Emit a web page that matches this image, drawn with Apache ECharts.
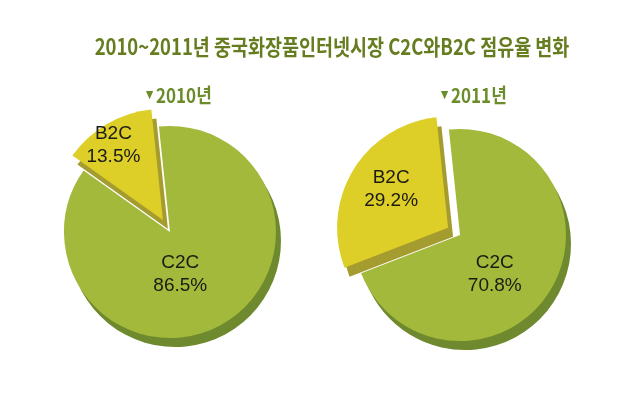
<!DOCTYPE html>
<html>
<head>
<meta charset="utf-8">
<script src="https://cdn.jsdelivr.net/npm/echarts@6/dist/echarts.min.js"></script>
<style>
html,body{margin:0;padding:0;background:#fff;}
#c{width:640px;height:394px;}
</style>
</head>
<body>
<div id="c"></div>
<script>
// ---- data ----
var titleText = '2010~2011년 중국화장품인터넷시장 C2C와B2C 점유율 변화';
var years = ['2010년', '2011년'];
var categories = ['C2C', 'B2C'];
var values2010 = [86.5, 13.5];
var values2011 = [70.8, 29.2];

// ---- layout / style ----
var pieCenters = [[170, 232], [460, 235]];
var sliceRadius = [106, 111];
var sideShift = [5, 9];
var explode = 14;
var topColors = ['#a3b93b', '#ddce28'];
var sideColors = ['#6f8a2e', '#a59c30'];
var labelNudge = [[[-18, -6], [-20, -24]], [[-13, 10], [-7, -8]]];
var yearPos = [[146, 95], [441, 95]];

var chart = echarts.init(document.getElementById('c'));

// one slice visible per series so each slice can have its own radius
function buildData(vals, colors, visibleIdx, isSide) {
  return categories.map(function (name, i) {
    var vis = i === visibleIdx;
    return {
      name: name,
      value: vals[i],
      selected: i === 1,
      itemStyle: { color: vis ? colors[i] : 'rgba(0,0,0,0)' },
      label: { show: vis && !isSide }
    };
  });
}

var allValues = [values2010, values2011];
var series = [];
function addLayer(isSide) {
  allValues.forEach(function (vals, k) {
    categories.forEach(function (cat, idx) {
      var c = pieCenters[k];
      series.push({
        type: 'pie',
        silent: true,
        animation: false,
        center: isSide ? [c[0] + sideShift[0], c[1] + sideShift[1]] : c,
        radius: sliceRadius[idx],
        startAngle: 96,
        selectedMode: 'single',
        selectedOffset: explode,
        emphasis: { disabled: true },
        label: isSide ? { show: false } : {
          show: true,
          position: 'inside',
          formatter: '{b}\n{c}%',
          fontFamily: 'Liberation Sans',
          fontSize: 19,
          lineHeight: 23,
          color: '#1b1b14'
        },
        labelLine: { show: false },
        labelLayout: isSide ? null : function (p) {
          var n = labelNudge[k][p.dataIndex];
          return { dx: n[0], dy: n[1] };
        },
        data: buildData(vals, isSide ? sideColors : topColors, idx, isSide)
      });
    });
  });
}
addLayer(true);
addLayer(false);

var graphics = [{
  type: 'text',
  x: 332, y: 47,
  scaleX: 0.84,
  style: {
    text: titleText,
    font: 'bold 22px "Noto Sans CJK KR", sans-serif',
    fill: '#667d1f',
    align: 'center',
    verticalAlign: 'middle'
  }
}];
years.forEach(function (y, k) {
  graphics.push({
    type: 'text',
    x: yearPos[k][0], y: yearPos[k][1],
    scaleX: 0.85,
    style: {
      text: '{t|▼} {y|' + y + '}',
      rich: {
        t: { fontSize: 11, fill: '#6b8c2a', fontFamily: 'DejaVu Sans' },
        y: { fontSize: 20, fill: '#6b8c2a', fontFamily: 'Noto Sans CJK KR', fontWeight: 'bold' }
      },
      align: 'left',
      verticalAlign: 'middle'
    }
  });
});

chart.setOption({
  backgroundColor: '#ffffff',
  animation: false,
  series: series,
  graphic: graphics
});
</script>
</body>
</html>
